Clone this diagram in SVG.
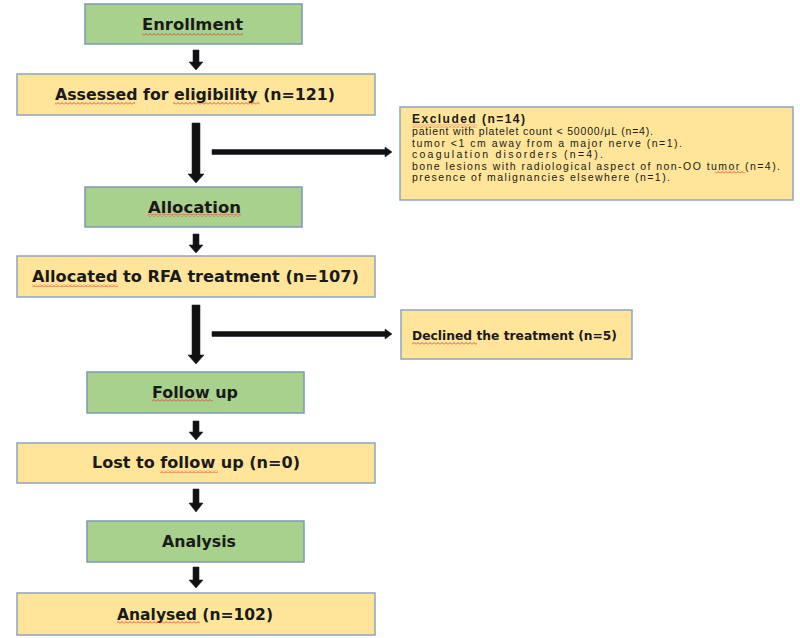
<svg xmlns="http://www.w3.org/2000/svg" width="800" height="638" viewBox="0 0 800 638">
<style>
.g{fill:#a9d18e;stroke:#7f98b3;stroke-width:1.5}
.y{fill:#ffe599;stroke:#8fa5bd;stroke-width:1.5}
.t{font-family:"DejaVu Sans",Verdana,sans-serif;font-weight:bold;font-size:15px;fill:#1a1a1a}
.d{font-family:"DejaVu Sans",Verdana,sans-serif;font-weight:bold;font-size:13px;fill:#1a1a1a}
.s{font-family:"Liberation Sans",Arial,sans-serif;font-size:10.5px;fill:#1a1a1a}
.sb{font-family:"Liberation Sans",Arial,sans-serif;font-size:12px;font-weight:bold;fill:#1a1a1a}
.a{fill:#111;stroke:#1e2a3a;stroke-width:0.6}
.w{fill:url(#wave)}
</style>
<defs>
<pattern id="wave" width="4" height="3" patternUnits="userSpaceOnUse">
<path d="M0 2.5 L2 0.5 L4 2.5" fill="none" stroke="#e0302a" stroke-width="0.8"/>
</pattern>
</defs>
<rect width="800" height="638" fill="#fff"/>
<g id="connectors">
<polygon class="a" points="193,50 199,50 199,62 203,62 196,70 189,62 193,62"/>
<polygon class="a" points="192,123 200,123 200,174 204,174 196,183 188,174 192,174"/>
<polygon class="a" points="212,149.5 385,149.5 385,147 392,152 385,157 385,154.5 212,154.5"/>
<polygon class="a" points="193,234 199,234 199,245 203,245 196,253 189,245 193,245"/>
<polygon class="a" points="192,305 200,305 200,355 204,355 196,364 188,355 192,355"/>
<polygon class="a" points="212,331.5 385,331.5 385,329 392,334 385,339 385,336.5 212,336.5"/>
<polygon class="a" points="193,421 199,421 199,432 203,432 196,440 189,432 193,432"/>
<polygon class="a" points="193,489 199,489 199,503 203,503 196,512 189,503 193,503"/>
<polygon class="a" points="193,567 199,567 199,580 203,580 196,588 189,580 193,580"/>
</g>
<g id="enrollment"><rect class="g" x="85" y="4" width="217" height="40"/><text class="t" x="142" y="30" textLength="101" lengthAdjust="spacingAndGlyphs">Enrollment</text></g>
<g id="assessed"><rect class="y" x="17" y="74" width="358" height="41"/><text class="t" x="55" y="100" textLength="280" lengthAdjust="spacingAndGlyphs">Assessed for eligibility (n=121)</text></g>
<g id="excluded"><rect class="y" x="400" y="107" width="393" height="93"/>
<text class="sb" x="412" y="122.5" textLength="113" lengthAdjust="spacing">Excluded (n=14)</text>
<text class="s" x="412" y="135" textLength="241" lengthAdjust="spacing">patient with platelet count &lt; 50000/μL (n=4).</text>
<text class="s" x="412" y="146.5" textLength="270" lengthAdjust="spacing">tumor &lt;1 cm away from a major nerve (n=1).</text>
<text class="s" x="412" y="158" textLength="191" lengthAdjust="spacing">coagulation disorders (n=4).</text>
<text class="s" x="412" y="169.5" textLength="368" lengthAdjust="spacing">bone lesions with radiological aspect of non-OO tumor (n=4).</text>
<text class="s" x="412" y="181" textLength="258" lengthAdjust="spacing">presence of malignancies elsewhere (n=1).</text>
</g>
<g id="allocation"><rect class="g" x="85" y="187" width="217" height="40"/><text class="t" x="148" y="212.5" textLength="93" lengthAdjust="spacingAndGlyphs">Allocation</text></g>
<g id="allocated"><rect class="y" x="17" y="256" width="358" height="41"/><text class="t" x="32" y="282" textLength="327" lengthAdjust="spacingAndGlyphs">Allocated to RFA treatment (n=107)</text></g>
<g id="declined"><rect class="y" x="401" y="310" width="231" height="49"/><text class="d" x="412" y="339.5" textLength="205" lengthAdjust="spacingAndGlyphs">Declined the treatment (n=5)</text></g>
<g id="followup"><rect class="g" x="87" y="372" width="217" height="41"/><text class="t" x="152" y="397.5" textLength="86" lengthAdjust="spacingAndGlyphs">Follow up</text></g>
<g id="lost"><rect class="y" x="17" y="443" width="358" height="40"/><text class="t" x="92" y="468" textLength="208" lengthAdjust="spacingAndGlyphs">Lost to follow up (n=0)</text></g>
<g id="analysis"><rect class="g" x="87" y="521" width="217" height="41"/><text class="t" x="162" y="547" textLength="74" lengthAdjust="spacingAndGlyphs">Analysis</text></g>
<g id="analysed"><rect class="y" x="17" y="593" width="358" height="42"/><text class="t" x="117" y="619.5" textLength="156" lengthAdjust="spacingAndGlyphs">Analysed (n=102)</text></g>
<g id="spellcheck">
<rect class="w" x="142" y="33" width="101" height="3"/>
<rect class="w" x="55" y="102" width="80" height="3"/>
<rect class="w" x="173" y="102" width="87" height="3"/>
<rect class="w" x="412" y="124.5" width="65" height="3"/>
<rect class="w" x="715" y="170.5" width="30" height="3"/>
<rect class="w" x="148" y="214" width="93" height="3"/>
<rect class="w" x="32" y="284" width="86" height="3"/>
<rect class="w" x="412" y="342" width="65" height="3"/>
<rect class="w" x="152" y="399" width="61" height="3"/>
<rect class="w" x="160" y="470" width="58" height="3"/>
<rect class="w" x="117" y="621" width="83" height="3"/>
</g>
</svg>
